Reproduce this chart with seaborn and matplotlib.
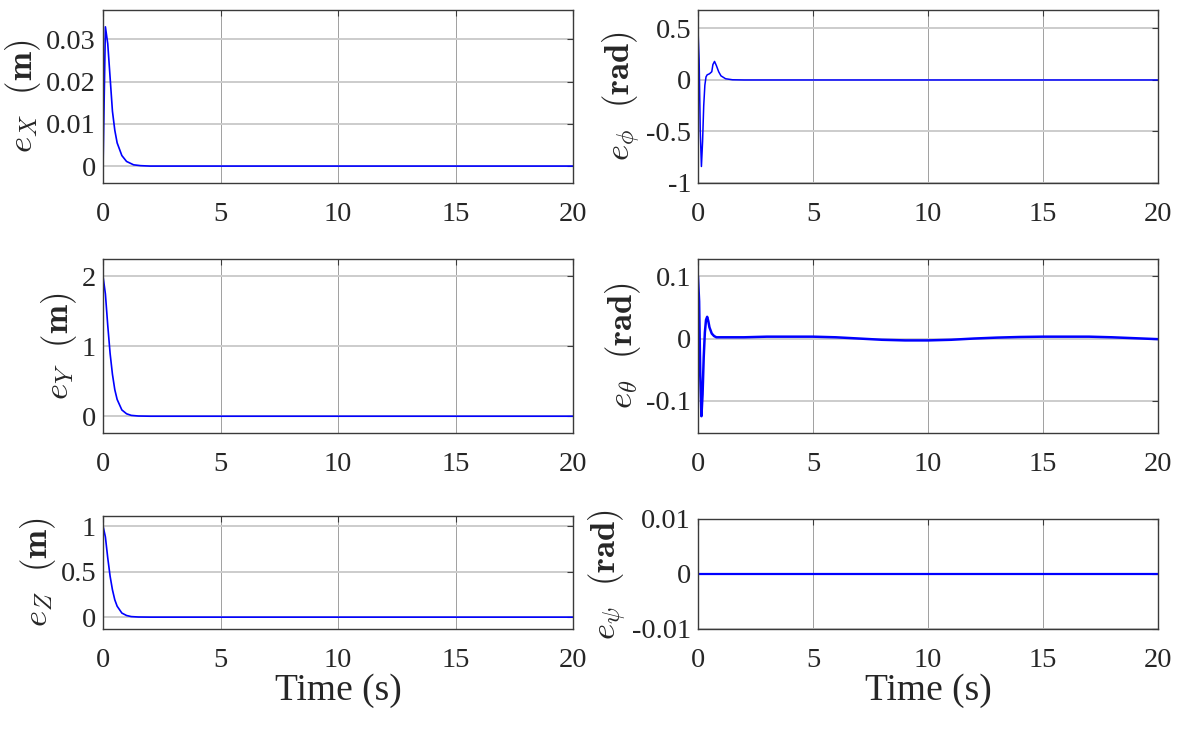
import matplotlib
matplotlib.use('Agg')
import numpy as np
import pandas as pd
import matplotlib.pyplot as plt
import seaborn as sns

# ─── data ───────────────────────────────────────────────────────────────────
time_ticks = [0, 5, 10, 15, 20]

t_x = [0, 0.1, 0.2, 0.3, 0.4, 0.5, 0.6, 0.8, 1.0, 1.3, 1.6, 2.0, 3.0, 20]
e_x = [0, 0.033, 0.029, 0.021, 0.013, 0.0085, 0.0055, 0.0025, 0.0011,
       0.0003, 0.0001, 0, 0, 0]

t_y = [0, 0.1, 0.2, 0.3, 0.4, 0.5, 0.6, 0.8, 1.0, 1.2, 1.5, 2.0, 20]
e_y = [2.0, 1.75, 1.3, 0.9, 0.6, 0.38, 0.24, 0.09, 0.035, 0.012, 0.003, 0, 0]

t_z = [0, 0.1, 0.2, 0.3, 0.4, 0.5, 0.6, 0.8, 1.0, 1.2, 1.5, 2.0, 20]
e_z = [1.0, 0.88, 0.65, 0.45, 0.3, 0.19, 0.12, 0.045, 0.018, 0.006, 0.0015, 0, 0]

t_phi = [0, 0.05, 0.1, 0.15, 0.2, 0.25, 0.3, 0.35, 0.4, 0.5, 0.6, 0.65,
         0.72, 0.8, 0.9, 1.0, 1.2, 1.5, 2.0, 20]
e_phi = [0.5, 0.2, -0.5, -0.84, -0.6, -0.25, -0.05, 0.03, 0.05, 0.06, 0.08,
         0.15, 0.18, 0.14, 0.08, 0.04, 0.012, 0.002, 0, 0]

t_theta = [0, 0.05, 0.1, 0.15, 0.2, 0.25, 0.3, 0.35, 0.4, 0.45, 0.5, 0.6,
           0.7, 0.8, 1.0, 2, 3, 4, 5, 6, 7, 8, 9, 10, 11, 12, 13, 14, 15,
           16, 17, 18, 19, 20]
e_theta = [0.1, 0.06, -0.06, -0.125, -0.09, -0.03, 0.01, 0.03, 0.035, 0.028,
           0.018, 0.008, 0.004, 0.002, 0.002, 0.002, 0.003, 0.003, 0.003,
           0.002, 0.0, -0.002, -0.003, -0.003, -0.002, 0.0, 0.0015, 0.0025,
           0.003, 0.003, 0.003, 0.002, 0.0005, -0.001]

t_psi = [0, 20]
e_psi = [0, 0]

panels = [
    # (t, e, ylabel, yticks, yticklabels, ylim, linewidth)
    (t_x, e_x, r'$e_X\ \ \mathbf{(m)}$', [0, 0.01, 0.02, 0.03],
     ['0', '0.01', '0.02', '0.03'], (-0.004, 0.037), 1.2),
    (t_phi, e_phi, r'$e_\phi\ \ \mathbf{(rad)}$', [-1, -0.5, 0, 0.5],
     ['-1', '-0.5', '0', '0.5'], (-1.0, 0.68), 1.1),
    (t_y, e_y, r'$e_Y\ \ \mathbf{(m)}$', [0, 1, 2],
     ['0', '1', '2'], (-0.24, 2.25), 1.2),
    (t_theta, e_theta, r'$e_\theta\ \ \mathbf{(rad)}$', [-0.1, 0, 0.1],
     ['-0.1', '0', '0.1'], (-0.152, 0.128), 1.8),
    (t_z, e_z, r'$e_Z\ \ \mathbf{(m)}$', [0, 0.5, 1],
     ['0', '0.5', '1'], (-0.13, 1.11), 1.2),
    (t_psi, e_psi, r'$e_\psi\ \ \mathbf{(rad)}$', [-0.01, 0, 0.01],
     ['-0.01', '0', '0.01'], (-0.01, 0.01), 1.6),
]

# axes rectangles in figure fractions (left, bottom, width, height)
rects = [
    (0.0874, 0.7514, 0.3986, 0.2351), (0.592, 0.7514, 0.3902, 0.2351),
    (0.0874, 0.4117, 0.3986, 0.2364), (0.592, 0.4117, 0.3902, 0.2364),
    (0.0874, 0.1454, 0.3986, 0.1535), (0.592, 0.1454, 0.3902, 0.1495),
]

sns.set_theme(style='white')
plt.rcParams['font.family'] = ['Liberation Serif', 'DejaVu Serif']
plt.rcParams['mathtext.fontset'] = 'cm'

fig = plt.figure(figsize=(11.79, 7.36), dpi=100)

for i, (rect, (t, e, ylab, yt, ytl, ylim, lw)) in enumerate(zip(rects, panels)):
    ax = fig.add_axes(rect)
    df = pd.DataFrame({'t': t, 'e': e})
    sns.lineplot(data=df, x='t', y='e', ax=ax, color='#0000ff',
                 linewidth=lw, estimator=None)
    ax.set_xlim(0, 20)
    ax.set_ylim(*ylim)
    ax.set_xticks(time_ticks)
    ax.set_xticklabels([str(v) for v in time_ticks])
    ax.set_yticks(yt)
    ax.set_yticklabels(ytl)
    ax.set_xlabel('')
    ax.set_ylabel(ylab, fontsize=25, labelpad=2)

    ax.xaxis.grid(True, color='#a0a0a0', linewidth=0.7)
    ax.yaxis.grid(True, color='#cccccc', linewidth=1.4)
    ax.set_axisbelow(True)
    for sp in ax.spines.values():
        sp.set_visible(True)
        sp.set_color('#3a3a3a')
        sp.set_linewidth(1.0)
    ax.tick_params(axis='both', direction='in', length=4, width=0.8,
                   color='#3a3a3a', labelsize=20.5, top=True, right=True)
    ax.tick_params(axis='x', pad=14)
    ax.tick_params(axis='y', pad=5)

    if i >= 4:
        ax.set_xlabel('Time (s)', fontsize=27, labelpad=0)

fig.savefig('out.png', dpi=100)
